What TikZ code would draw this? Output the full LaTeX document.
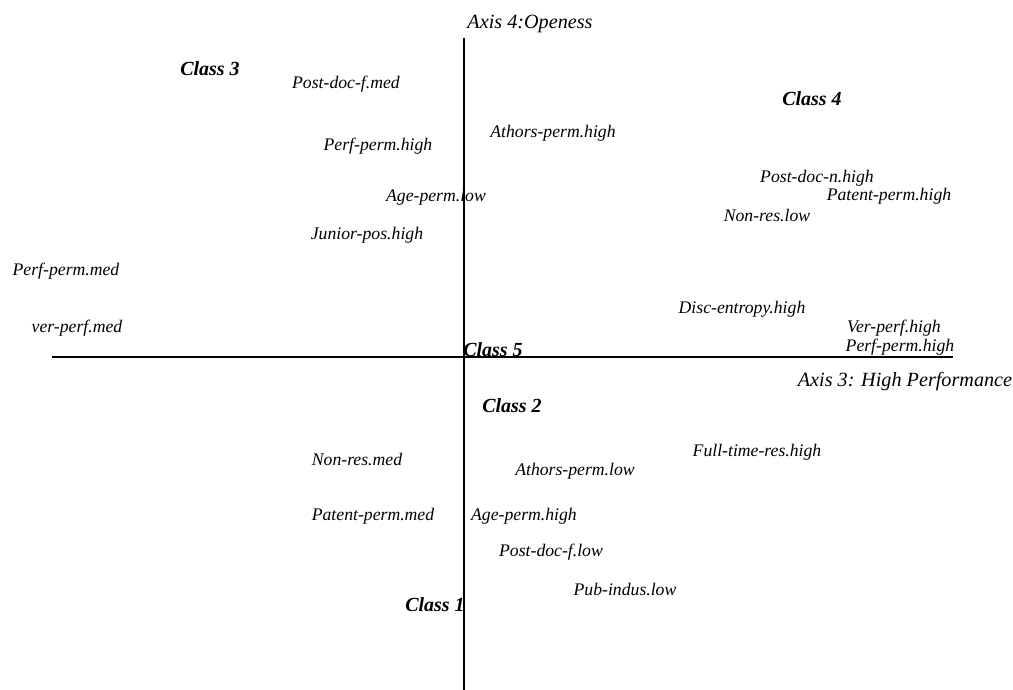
\documentclass[tikz,border=0pt]{standalone}
\usepackage{fontspec}
\setmainfont{Liberation Serif}
\tikzset{
  var/.style={inner sep=0pt, yshift=-1.5pt, font=\itshape\fontsize{17.7}{20}\selectfont},
  cls/.style={inner sep=0pt, yshift=-1.5pt, font=\bfseries\itshape\fontsize{20}{24}\selectfont},
  axlab/.style={inner sep=0pt, yshift=-1.5pt, font=\itshape\fontsize{20.2}{24}\selectfont}
}
\begin{document}
\begin{tikzpicture}[x=1pt,y=-1pt]
      \useasboundingbox (0,0) rectangle (1013,690);
      % axes
      \coordinate (xl) at (52,357);
      \coordinate (xr) at (953,357);
      \coordinate (yt) at (464,38);
      \coordinate (yb) at (464,690);
      \draw [line width=1.6pt] (xl) -- (xr);
      \draw [line width=1.6pt] (yt) -- (yb);
      \node [axlab] (ax4) at (530,22) {Axis 4:Openess};
      \node [axlab] (ax3) at (905,380) {Axis 3: High Performance};

      % classes
      \node [cls] (c3) at (210,67) {Class 3};
      \node [cls] (c4) at (812,97) {Class 4};
      \node [cls] (c5) at (493,348) {Class 5};
      \node [cls] (c2) at (512,404) {Class 2};
      \node [cls] (c1) at (435,603) {Class 1};

      % upper half
      \node [var] (pdfmed) at (346,83) {Post-doc-f.med};
      \node [var] (athhigh) at (553,132) {Athors-perm.high};
      \node [var] (pphigh) at (378,145) {Perf-perm.high};
      \node [var] (pdnhigh) at (817,177) {Post-doc-n.high};
      \node [var] (patphigh) at (889,195) {Patent-perm.high};
      \node [var] (nrlow) at (767,214) {Non-res.low};
      \node [var] (aplow) at (436,196) {Age-perm.low};
      \node [var] (jphigh) at (367,234) {Junior-pos.high};
      \node [var] (ppmed) at (66,270) {Perf-perm.med};
      \node [var] (dehigh) at (742,308) {Disc-entropy.high};
      \node [var] (vpmed) at (77,327) {ver-perf.med};
      \node [var] (vphigh) at (894,327) {Ver-perf.high};
      \node [var] (pphigh2) at (900,346) {Perf-perm.high};

      % lower half
      \node [var] (ftrhigh) at (757,451) {Full-time-res.high};
      \node [var] (nrmed) at (357,458) {Non-res.med};
      \node [var] (athlow) at (575,470) {Athors-perm.low};
      \node [var] (patpmed) at (373,515) {Patent-perm.med};
      \node [var] (aphigh) at (524,515) {Age-perm.high};
      \node [var] (pdflow) at (551,551) {Post-doc-f.low};
      \node [var] (pilow) at (625,588) {Pub-indus.low};

    \end{tikzpicture}
\end{document}
